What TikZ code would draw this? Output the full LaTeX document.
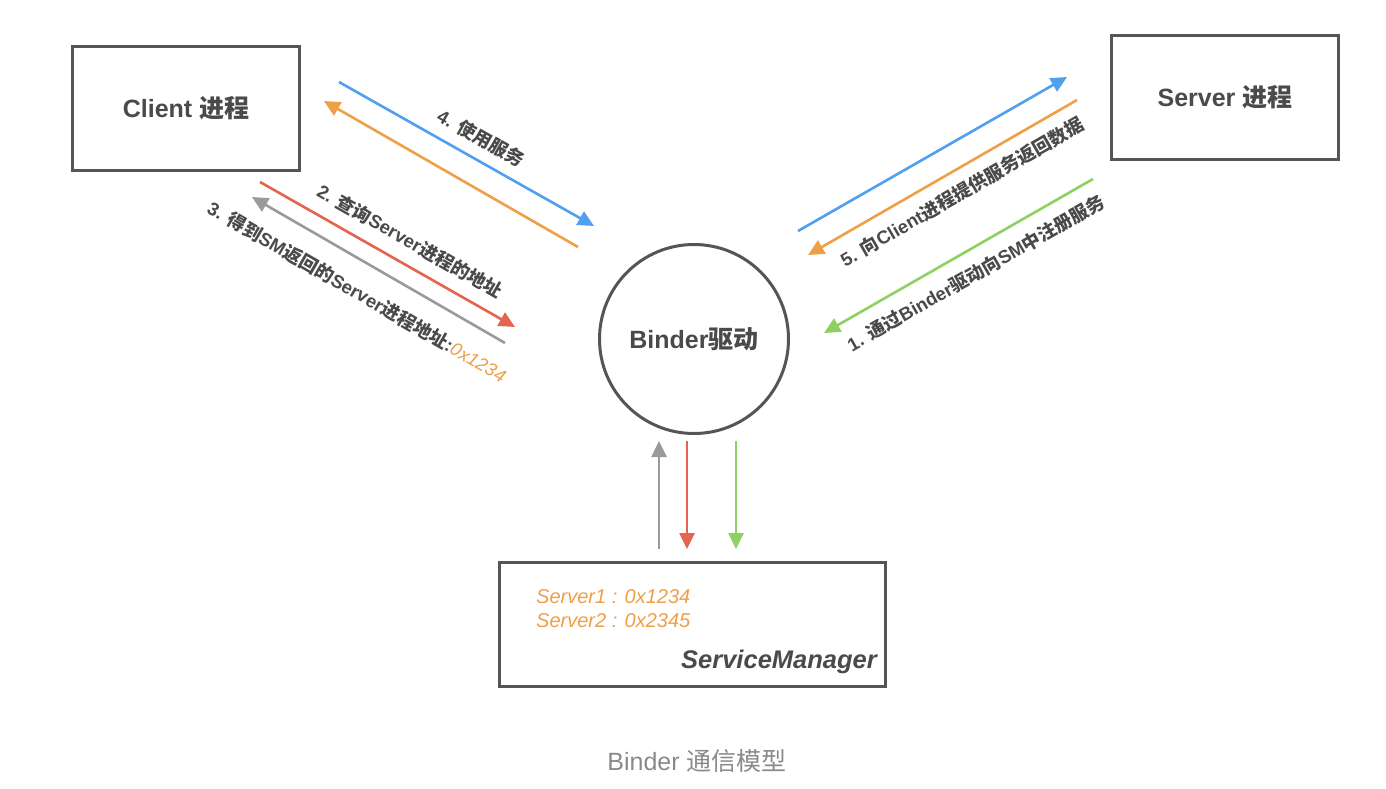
\documentclass[tikz,border=0pt]{standalone}
\usepackage{fontspec}
\setmainfont{Liberation Sans}
\newfontfamily\cjk{Noto Sans CJK SC}
\usetikzlibrary{arrows.meta}
\definecolor{boxgray}{HTML}{555555}
\definecolor{txtgray}{HTML}{4A4A4A}
\definecolor{ablue}{HTML}{4FA0F0}
\definecolor{aorange}{HTML}{EE9F48}
\definecolor{ared}{HTML}{E56450}
\definecolor{agray}{HTML}{9A9A9A}
\definecolor{agreen}{HTML}{8DD163}
\definecolor{capgray}{HTML}{8A8A8A}
\newcommand{\zh}[1]{{\cjk #1}}
\begin{document}
\begin{tikzpicture}[x=1pt,y=-1pt,
  procbox/.style={draw=boxgray, line width=3pt, minimum width=227pt, minimum height=124pt, inner sep=0pt,
    font=\fontsize{25}{29}\selectfont\bfseries, text=txtgray},
  flow/.style={line width=2.6pt, -{Triangle[length=16pt,width=15pt]}},
  lbl/.style={font=\fontsize{18.5}{22}\selectfont\bfseries, text=txtgray, inner sep=0pt},
]
\useasboundingbox[fill=white] (0,0) rectangle (1386,788);

% nodes
\node[procbox] (client) at (186,108) {Client \zh{进程}};
\node[procbox] (server) at (1225,97) {Server \zh{进程}};
\node[circle, draw=boxgray, line width=3pt, minimum size=189pt, inner sep=0pt,
  font=\fontsize{25}{29}\selectfont\bfseries, text=txtgray] (binder) at (694,339) {Binder\zh{驱动}};
\node[draw=boxgray, line width=3pt, minimum width=386pt, minimum height=124pt, inner sep=0pt] (sm) at (692.5,624.5) {};
\node[anchor=west, text=aorange, font=\fontsize{20}{23}\selectfont\itshape, inner sep=0pt] (s1) at (536,597) {Server1 : 0x1234};
\node[anchor=west, text=aorange, font=\fontsize{20}{23}\selectfont\itshape, inner sep=0pt] (s2) at (536,621) {Server2 : 0x2345};
\node[anchor=east, text=txtgray, font=\fontsize{25.5}{29}\selectfont\bfseries\itshape, inner sep=0pt] (smname) at (877,662) {ServiceManager};
\node[text=capgray, font=\fontsize{25}{29}\selectfont, inner sep=0pt] (caption) at (697,761) {Binder \zh{通信模型}};

% arrow end points
\coordinate (b4s) at (339,82);   \coordinate (b4e) at (594,226);
\coordinate (o5s) at (578,247);  \coordinate (o5e) at (324,101);
\coordinate (r2s) at (260,182);  \coordinate (r2e) at (515,327);
\coordinate (g3s) at (505,343);  \coordinate (g3e) at (252,197);
\coordinate (rb4s) at (798,231); \coordinate (rb4e) at (1067,77);
\coordinate (ro5s) at (1077,100);\coordinate (ro5e) at (808,255);
\coordinate (gr1s) at (1093,179);\coordinate (gr1e) at (824,333);
\coordinate (vgs) at (659,549);  \coordinate (vge) at (659,441);
\coordinate (vrs) at (687,441);  \coordinate (vre) at (687,549);
\coordinate (vns) at (736,441);  \coordinate (vne) at (736,549);

% connectors
\draw[flow, ablue]   (b4s) -- (b4e);
\draw[flow, aorange] (o5s) -- (o5e);
\draw[flow, ared]    (r2s) -- (r2e);
\draw[flow, agray]   (g3s) -- (g3e);
\draw[flow, ablue]   (rb4s) -- (rb4e);
\draw[flow, aorange] (ro5s) -- (ro5e);
\draw[flow, agreen]  (gr1s) -- (gr1e);
\draw[flow, agray]   (vgs) -- (vge);
\draw[flow, ared]    (vrs) -- (vre);
\draw[flow, agreen]  (vns) -- (vne);

% labels
\node[lbl, rotate=-29.5] (l4) at (481,138) {4. \zh{使用服务}};
\node[lbl, rotate=-29.6] (l2) at (410,241) {2. \zh{查询}Server\zh{进程的地址}};
\node[lbl, rotate=-30] (l3) at (357,292) {3. \zh{得到}SM\zh{返回的}Server\zh{进程地址}:{\color{aorange}\mdseries\itshape 0x1234}};
\node[lbl, rotate=30] (l5) at (962,192) {5. \zh{向}Client\zh{进程提供服务返回数据}};
\node[lbl, rotate=29.8] (l1) at (976,273) {1. \zh{通过}Binder\zh{驱动向}SM\zh{中注册服务}};
\end{tikzpicture}
\end{document}
